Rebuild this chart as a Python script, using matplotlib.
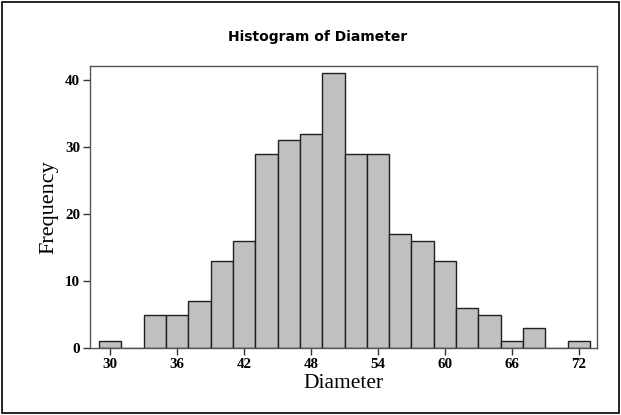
import matplotlib
matplotlib.use("Agg")
import matplotlib.pyplot as plt
from matplotlib.patches import Rectangle

bin_centers = [30, 32, 34, 36, 38, 40, 42, 44, 46, 48, 50, 52, 54, 56, 58, 60, 62, 64, 66, 68, 70, 72]
frequencies = [1, 0, 5, 5, 7, 13, 16, 29, 31, 32, 41, 29, 29, 17, 16, 13, 6, 5, 1, 3, 0, 1]
x_ticks = [30, 36, 42, 48, 54, 60, 66, 72]
y_ticks = [0, 10, 20, 30, 40]

fig = plt.figure(figsize=(6.21, 4.15), dpi=100)
fig.patches.append(Rectangle((0.003, 0.004), 0.994, 0.992, transform=fig.transFigure,
                             fill=False, edgecolor='black', linewidth=1.2))
ax = fig.add_axes([0.145, 0.161, 0.816, 0.68])

ax.bar(bin_centers, frequencies, width=2, color='#c0c0c0', edgecolor='#202020', linewidth=1.0, align='center')

ax.set_xlim(28.2, 73.6)
ax.set_ylim(0, 42.1)
ax.set_xticks(x_ticks)
ax.set_yticks(y_ticks)
for s in ax.spines.values():
    s.set_color('#555555')
    s.set_linewidth(1.0)
ax.tick_params(direction='out', length=5, width=1, color='#333333', pad=2)
for lab in ax.get_xticklabels() + ax.get_yticklabels():
    lab.set_fontfamily('Liberation Serif')
    lab.set_fontweight('bold')
    lab.set_fontsize(10.8)

ax.set_xlabel('Diameter', fontfamily='Liberation Serif', fontsize=15.5, labelpad=2)
ax.set_ylabel('Frequency', fontfamily='Liberation Serif', fontsize=16, labelpad=5)
fig.text(0.512, 0.91, 'Histogram of Diameter', ha='center', va='center',
         fontfamily='DejaVu Sans', fontweight='bold', fontsize=10)

fig.savefig('out.png', dpi=100)
